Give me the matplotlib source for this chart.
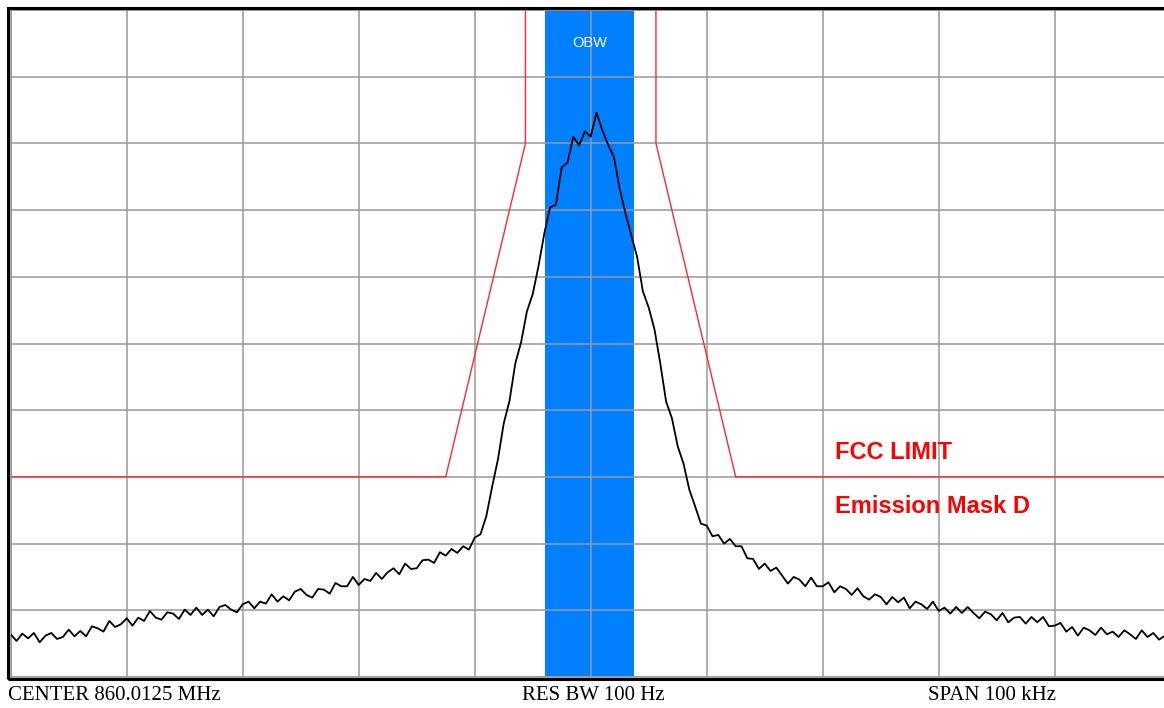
import numpy as np
import matplotlib
matplotlib.use("Agg")
import matplotlib.pyplot as plt
from matplotlib.patches import Rectangle

# sweep: 100 kHz span around the centre, level in dB relative to reference
span_khz = 100.0
level_db = [
    # -50 .. -10.5 kHz
    -93.6, -94.6, -93.5, -94.2, -93.4, -94.8, -93.8, -93.4, -94.3, -94.0,
    -92.9, -93.9, -93.1, -93.9, -92.4, -92.7, -93.2, -91.6, -92.5, -92.1,
    -91.2, -92.3, -91.1, -91.6, -90.1, -91.1, -91.4, -90.3, -90.5, -91.3,
    -89.9, -90.7, -89.6, -90.7, -89.9, -90.9, -89.5, -89.2, -89.9, -90.3,
    -89.1, -88.7, -89.7, -88.7, -89.0, -87.6, -88.7, -87.9, -88.5, -87.2,
    -86.8, -87.7, -88.1, -86.8, -86.9, -87.5, -85.9, -86.4, -86.4, -85.0,
    -86.2, -85.3, -85.6, -84.4, -85.3, -84.3, -83.7, -84.6, -83.0, -83.8,
    -83.7, -82.5, -82.4, -82.9, -81.3, -81.8, -80.8, -81.4, -80.4, -80.9,
    # -10 .. +10 kHz
    -79.1, -78.6, -75.9, -71.5, -67.4, -62.0, -58.6, -53.0, -49.8, -45.2,
    -42.6, -38.4, -33.5, -29.6, -29.2, -23.6, -22.9, -19.0, -20.3, -18.2,
    -19.0, -15.4, -18.0, -20.2, -22.0, -26.8, -30.5, -33.8, -37.0, -42.2,
    -44.6, -47.9, -53.0, -58.7, -61.2, -65.4, -68.0, -71.9, -74.4, -77.0,
    -77.3,
    # +10.5 .. +50 kHz
    -78.9, -78.7, -80.0, -79.3, -80.4, -80.4, -82.2, -82.3, -83.8, -83.0,
    -84.1, -83.6, -84.8, -86.0, -85.0, -85.4, -86.4, -85.1, -86.4, -86.4,
    -85.8, -87.3, -86.4, -86.8, -87.7, -86.7, -87.9, -88.4, -87.6, -88.0,
    -89.1, -88.0, -88.8, -88.1, -89.7, -88.7, -89.1, -89.8, -88.7, -90.1,
    -89.6, -90.5, -89.5, -90.4, -89.5, -90.4, -91.2, -90.2, -90.6, -91.5,
    -90.4, -91.8, -91.1, -91.0, -92.0, -91.0, -91.8, -91.0, -92.4, -92.3,
    -91.9, -93.2, -92.5, -93.8, -92.6, -93.0, -93.7, -92.6, -93.6, -93.2,
    -94.0, -93.0, -93.6, -94.3, -93.0, -94.0, -93.4, -94.4, -93.8, -93.9,
]
freq_khz = np.linspace(-span_khz / 2, span_khz / 2, len(level_db))

# FCC emission mask D (attenuation vs. offset)
mask_khz = [-50, -12.5, -5.625, -5.625, 5.625, 5.625, 12.5, 50]
mask_db = [-70, -70, -20, 0, 0, -20, -70, -70]

# occupied bandwidth marker
obw_lo, obw_hi = -3.95, 3.7

W, H = 1164, 708
fig = plt.figure(figsize=(W / 100, H / 100), dpi=100)
ax = fig.add_axes([10.7 / W, 1 - 677 / H, 1160 / W, 667 / H])

ax.set_xlim(-50, 50)
ax.set_ylim(-100, 0)
ax.set_xticks(np.arange(-50, 51, 10))
ax.set_yticks(np.arange(-100, 1, 10))
ax.tick_params(length=0, labelbottom=False, labelleft=False)
ax.set_axisbelow(True)
ax.grid(True, color="#999999", lw=1.1)
for s in ax.spines.values():
    s.set_color("#999999")
    s.set_linewidth(1.2)

ax.axvspan(obw_lo, obw_hi, color="#0080ff", lw=0, zorder=0.2)
ax.text((obw_lo + obw_hi) / 2, -5, "OBW", color="white", ha="center",
        va="center", fontsize=10.5, family="Liberation Sans")

ax.plot(mask_khz, mask_db, color="#ff2a2a", lw=1.0, zorder=2, clip_on=False)
ax.plot(freq_khz, level_db, color="black", lw=1.3, zorder=3)

# outer black frame of the display
fig.add_artist(Rectangle((7.5 / W, 1 - 679 / H), 1.1, 671.5 / H,
                         transform=fig.transFigure, fill=False,
                         edgecolor="black", lw=2.2))

fig.text(835 / W, 1 - 459 / H, "FCC LIMIT", color="red", fontsize=17,
         fontweight="bold", family="Liberation Sans", va="baseline")
fig.text(835 / W, 1 - 513 / H, "Emission Mask D", color="red", fontsize=17,
         fontweight="bold", family="Liberation Sans", va="baseline")

foot = dict(fontsize=15, family="Liberation Serif", va="baseline")
fig.text(8 / W, 1 - 700.5 / H, "CENTER 860.0125 MHz", **foot)
fig.text(522 / W, 1 - 700.5 / H, "RES BW 100 Hz", **foot)
fig.text(928 / W, 1 - 700.5 / H, "SPAN 100 kHz", **foot)

fig.savefig("out.png", dpi=100)
